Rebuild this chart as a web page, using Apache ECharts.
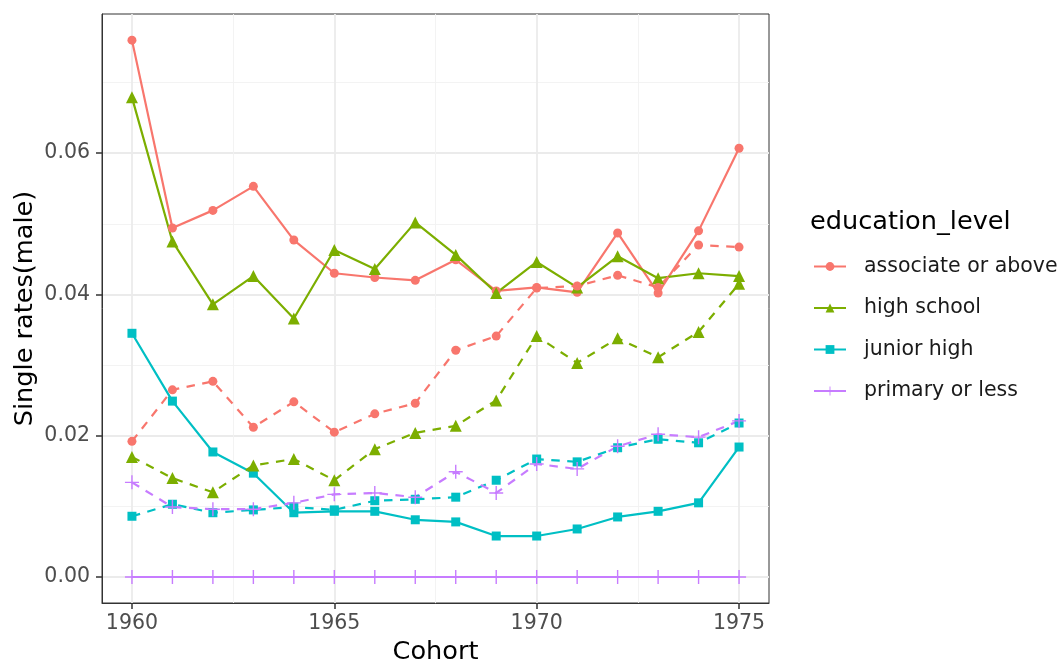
<!DOCTYPE html>
<html>
<head>
<meta charset="utf-8">
<script src="https://cdn.jsdelivr.net/npm/echarts@6/dist/echarts.min.js"></script>
<style>
  html, body { margin: 0; padding: 0; background: #fff; }
  #chart { width: 1061px; height: 661px; }
</style>
</head>
<body>
<div id="chart"></div>
<script>
// cohort years on the x axis
const cohorts = [1960, 1961, 1962, 1963, 1964, 1965, 1966, 1967, 1968, 1969, 1970, 1971, 1972, 1973, 1974, 1975];

// solid = first line per group, dashed = second line per group
const assocSolid = [0.0760, 0.0494, 0.0519, 0.0553, 0.0477, 0.0430, 0.0424, 0.0420, 0.0449, 0.0405, 0.0410, 0.0403, 0.0487, 0.0402, 0.0490, 0.0607];
const assocDashed = [0.0192, 0.0265, 0.0277, 0.0212, 0.0248, 0.0205, 0.0231, 0.0246, 0.0321, 0.0341, 0.0409, 0.0412, 0.0427, 0.0410, 0.0470, 0.0467];
const highSolid = [0.0679, 0.0475, 0.0386, 0.0426, 0.0366, 0.0463, 0.0436, 0.0502, 0.0456, 0.0402, 0.0446, 0.0410, 0.0454, 0.0423, 0.0430, 0.0426];
const highDashed = [0.0170, 0.0140, 0.0120, 0.0158, 0.0167, 0.0137, 0.0181, 0.0204, 0.0214, 0.0250, 0.0341, 0.0303, 0.0338, 0.0311, 0.0347, 0.0415];
const juniorSolid = [0.0345, 0.0249, 0.0177, 0.0147, 0.0091, 0.0093, 0.0093, 0.0081, 0.0078, 0.0058, 0.0058, 0.0068, 0.0085, 0.0093, 0.0105, 0.0184];
const juniorDashed = [0.0086, 0.0103, 0.0091, 0.0095, 0.0099, 0.0095, 0.0108, 0.0110, 0.0113, 0.0137, 0.0167, 0.0163, 0.0183, 0.0195, 0.0190, 0.0218];
const primarySolid = [0, 0, 0, 0, 0, 0, 0, 0, 0, 0, 0, 0, 0, 0, 0, 0];
const primaryDashed = [0.0134, 0.0099, 0.0096, 0.0096, 0.0105, 0.0117, 0.0119, 0.0113, 0.0149, 0.0119, 0.0160, 0.0153, 0.0185, 0.0202, 0.0198, 0.0221];

const levels = ['associate or above', 'high school', 'junior high', 'primary or less'];
const colors = ['#F8766D', '#7CAE00', '#00BFC4', '#C77CFF'];
const xTicks = [1960, 1965, 1970, 1975];
const xMinor = [1962.5, 1967.5, 1972.5];
const yTicks = [0, 0.02, 0.04, 0.06];
const yMinor = [0.01, 0.03, 0.05, 0.07];

const PLUS = 'path://M0,45L100,45L100,55L0,55Z M45,0L55,0L55,100L45,100Z';
const symbols = ['circle', 'triangle', 'rect', PLUS];
const symbolSizes = [9, 12, 9, 14];

function pairs(vals) {
    return cohorts.map((c, i) => [c, vals[i]]);
}

function makeSeries(idx, vals, dashed) {
    return {
        name: levels[idx],
        type: 'line',
        data: pairs(vals),
        symbol: symbols[idx],
        symbolSize: symbolSizes[idx],
        showAllSymbol: true,
        color: colors[idx],
        itemStyle: { color: colors[idx] },
        lineStyle: { width: 2.2, color: colors[idx], type: dashed ? [8.5, 7.5] : 'solid' },
        emphasis: { disabled: true },
        animation: false
    };
}

const sol = [assocSolid, highSolid, juniorSolid, primarySolid];
const dsh = [assocDashed, highDashed, juniorDashed, primaryDashed];
let series = [];
for (let i = 0; i < 4; i++) series.push(makeSeries(i, sol[i], false));
for (let i = 0; i < 4; i++) series.push(makeSeries(i, dsh[i], true));

const FONT = 'DejaVu Sans';
const TICK = 20.5;   // tick label / legend text size
const TITLE = 25.6;  // axis title / legend title size
const gridLine = { show: true, lineStyle: { color: '#EBEBEB', width: 1.8 } };
const minorLine = { show: true, lineStyle: { color: '#F2F2F2', width: 0.9 } };
const blackLine = { show: true, onZero: false, lineStyle: { color: '#333', width: 1 } };

let chart = echarts.init(document.getElementById('chart'), null, { renderer: 'canvas' });
chart.setOption({
    backgroundColor: '#fff',
    animation: false,
    textStyle: { fontFamily: FONT },
    title: {
        text: 'education_level',
        left: 810, top: 209, padding: 0,
        textStyle: { fontFamily: FONT, fontSize: TITLE, fontWeight: 'normal', color: '#000' }
    },
    legend: {
        data: levels,
        orient: 'vertical',
        left: 813, top: 256, padding: 0,
        itemWidth: 32, itemHeight: 11, itemGap: 20.5,
        selectedMode: false,
        textStyle: { fontFamily: FONT, fontSize: TICK, color: '#1a1a1a', padding: [0, 0, 0, 13] }
    },
    grid: { left: 102, right: 292, top: 14, bottom: 58, outerBoundsMode: 'none', containLabel: false,
        show: true, borderColor: '#333', borderWidth: 1, backgroundColor: 'transparent' },
    xAxis: [{
        type: 'value', min: 1959.26, max: 1975.74,
        name: 'Cohort', nameLocation: 'middle', nameGap: 36,
        nameTextStyle: { fontFamily: FONT, fontSize: TITLE, color: '#000' },
        axisLine: blackLine,
        axisTick: { show: true, length: 6, customValues: xTicks, lineStyle: { color: '#333', width: 1.5 } },
        axisLabel: { customValues: xTicks, fontFamily: FONT, fontSize: TICK, color: '#4D4D4D', margin: 10,
            formatter: v => String(v) },
        splitLine: gridLine
    }, {
        type: 'value', min: 1959.26, max: 1975.74, position: 'bottom',
        axisLine: { show: false },
        axisTick: { show: false, customValues: xMinor },
        axisLabel: { show: false, customValues: xMinor },
        splitLine: minorLine
    }],
    yAxis: [{
        type: 'value', min: -0.00368, max: 0.0797,
        name: 'Single rates(male)', nameLocation: 'middle', nameGap: 64, nameRotate: 90,
        nameMoveOverlap: false,
        nameTextStyle: { fontFamily: FONT, fontSize: TITLE, color: '#000' },
        axisLine: blackLine,
        axisTick: { show: true, length: 6, customValues: yTicks, lineStyle: { color: '#333', width: 1.5 } },
        axisLabel: { customValues: yTicks, fontFamily: FONT, fontSize: TICK, color: '#4D4D4D', margin: 12,
            formatter: v => v.toFixed(2) },
        splitLine: gridLine
    }, {
        type: 'value', min: -0.00368, max: 0.0797, position: 'left',
        axisLine: { show: false },
        axisTick: { show: false, customValues: yMinor },
        axisLabel: { show: false, customValues: yMinor },
        splitLine: minorLine
    }],
    series: series
});
</script>
</body>
</html>
